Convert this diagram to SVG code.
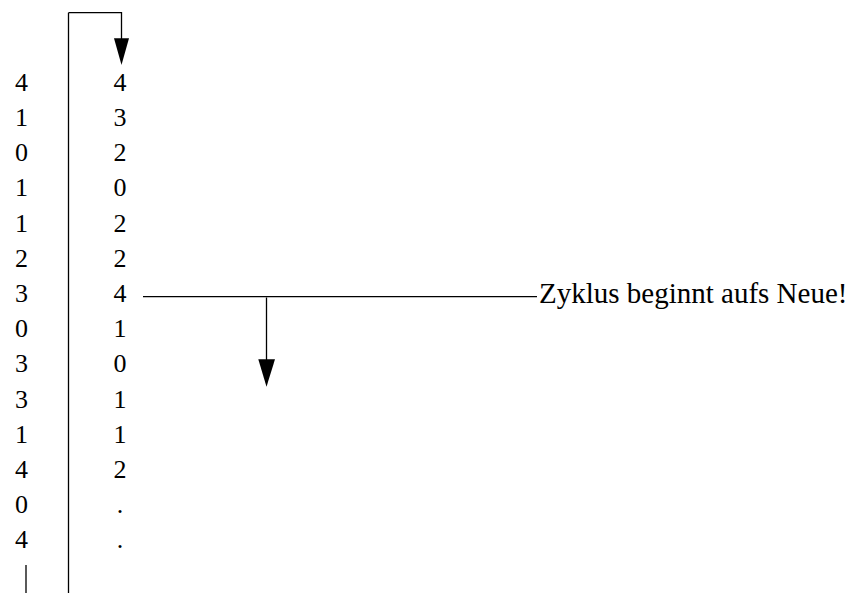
<svg xmlns="http://www.w3.org/2000/svg" width="859" height="593" viewBox="0 0 859 593">
<style>
.d{font-family:"Liberation Serif","Times New Roman",serif;font-size:26px;fill:#000;text-anchor:middle}
.l{font-family:"Liberation Serif","Times New Roman",serif;font-size:29px;fill:#000}
.ln{stroke:#000;stroke-width:1.3;fill:none}
.ah{fill:#000;stroke:none}
</style>
<rect width="859" height="593" fill="#fff"/>
<g id="left-column">
<text class="d" x="21.5" y="90.7">4</text>
<text class="d" x="21.5" y="125.9">1</text>
<text class="d" x="21.5" y="161.1">0</text>
<text class="d" x="21.5" y="196.3">1</text>
<text class="d" x="21.5" y="231.5">1</text>
<text class="d" x="21.5" y="266.7">2</text>
<text class="d" x="21.5" y="301.9">3</text>
<text class="d" x="21.5" y="337.1">0</text>
<text class="d" x="21.5" y="372.3">3</text>
<text class="d" x="21.5" y="407.5">3</text>
<text class="d" x="21.5" y="442.7">1</text>
<text class="d" x="21.5" y="477.9">4</text>
<text class="d" x="21.5" y="513.1">0</text>
<text class="d" x="21.5" y="548.3">4</text>
</g>
<g id="right-column">
<text class="d" x="120" y="90.7">4</text>
<text class="d" x="120" y="125.9">3</text>
<text class="d" x="120" y="161.1">2</text>
<text class="d" x="120" y="196.3">0</text>
<text class="d" x="120" y="231.5">2</text>
<text class="d" x="120" y="266.7">2</text>
<text class="d" x="120" y="301.9">4</text>
<text class="d" x="120" y="337.1">1</text>
<text class="d" x="120" y="372.3">0</text>
<text class="d" x="120" y="407.5">1</text>
<text class="d" x="120" y="442.7">1</text>
<text class="d" x="120" y="477.9">2</text>
<text class="d" x="120" y="513.1">.</text>
<text class="d" x="120" y="548.3">.</text>
</g>
<g id="label">
<text class="l" x="539" y="303">Zyklus beginnt aufs Neue!</text>
</g>
<g id="connectors">
<line class="ln" x1="68.5" y1="593" x2="68.5" y2="12.7"/>
<polyline class="ln" points="68.5,12.7 121.5,12.7 121.5,39"/>
<polygon class="ah" points="114,38.3 129,38.3 121.5,65"/>
<line class="ln" x1="26" y1="565" x2="26" y2="593"/>
<line class="ln" x1="143" y1="296.7" x2="537" y2="296.7" stroke="#333"/>
<line class="ln" x1="266.5" y1="297.5" x2="266.5" y2="360"/>
<polygon class="ah" points="258.3,359.3 275,359.3 266.5,386.7"/>
</g>
</svg>
